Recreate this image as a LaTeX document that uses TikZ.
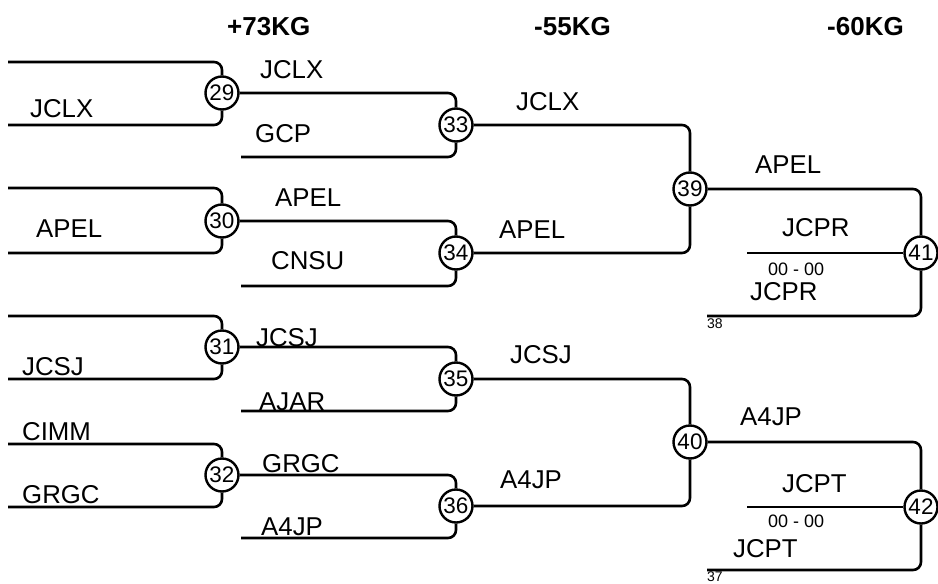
\documentclass[tikz,border=0pt]{standalone}
\usepackage{fontspec}
\setmainfont{Liberation Sans}
\begin{document}
\begin{tikzpicture}[x=1pt,y=-1pt,
  lbl/.style={anchor=base west, inner sep=0pt, font=\fontsize{25.8}{30}\selectfont},
  hdr/.style={anchor=base west, inner sep=0pt, font=\fontsize{26}{30}\selectfont\bfseries},
  num/.style={circle, draw, line width=2.4pt, minimum size=33pt, inner sep=0pt, font=\fontsize{22.5}{24}\selectfont, fill=white},
  score/.style={anchor=base west, inner sep=0pt, font=\fontsize{18}{20}\selectfont},
  seed/.style={anchor=north west, inner sep=0pt, font=\fontsize{14}{15}\selectfont},
  br/.style={line width=2.6pt, rounded corners=8pt},
]
\useasboundingbox (0,0) rectangle (938,584);
% headers
\node[hdr] (h1) at (227,35) {+73KG};
\node[hdr] (h2) at (534,35) {-55KG};
\node[hdr] (h3) at (827,35) {-60KG};
% match circles
\node[num] (n29) at (222,93) {29};
\node[num] (n30) at (222,221) {30};
\node[num] (n31) at (222,347) {31};
\node[num] (n32) at (222,475) {32};
\node[num] (n33) at (456,125) {33};
\node[num] (n34) at (456,253) {34};
\node[num] (n35) at (456,379) {35};
\node[num] (n36) at (456,506) {36};
\node[num] (n39) at (690,189) {39};
\node[num] (n40) at (690,442) {40};
\node[num] (n41) at (921,253) {41};
\node[num] (n42) at (921,507) {42};
% free ends
\coordinate (a1) at (8,62);  \coordinate (b1) at (8,125);
\coordinate (a2) at (8,188); \coordinate (b2) at (8,253);
\coordinate (a3) at (8,316); \coordinate (b3) at (8,379);
\coordinate (a4) at (8,444); \coordinate (b4) at (8,507);
\coordinate (g1) at (241,157); \coordinate (g2) at (241,286);
\coordinate (g3) at (241,411); \coordinate (g4) at (241,538);
\coordinate (m41) at (747,253); \coordinate (l41) at (707,316);
\coordinate (m42) at (747,507); \coordinate (l42) at (707,570);
% connectors
\draw[br] (a1) -| (n29.north); \draw[br] (b1) -| (n29.south);
\draw[br] (a2) -| (n30.north); \draw[br] (b2) -| (n30.south);
\draw[br] (a3) -| (n31.north); \draw[br] (b3) -| (n31.south);
\draw[br] (a4) -| (n32.north); \draw[br] (b4) -| (n32.south);
\draw[br] (n29.east) -| (n33.north); \draw[br] (g1) -| (n33.south);
\draw[br] (n30.east) -| (n34.north); \draw[br] (g2) -| (n34.south);
\draw[br] (n31.east) -| (n35.north); \draw[br] (g3) -| (n35.south);
\draw[br] (n32.east) -| (n36.north); \draw[br] (g4) -| (n36.south);
\draw[br] (n33.east) -| (n39.north); \draw[br] (n34.east) -| (n39.south);
\draw[br] (n35.east) -| (n40.north); \draw[br] (n36.east) -| (n40.south);
\draw[br] (n39.east) -| (n41.north); \draw[br] (l41) -| (n41.south);
\draw[br] (m41) -- (n41.west);
\draw[br] (n40.east) -| (n42.north); \draw[br] (l42) -| (n42.south);
\draw[br] (m42) -- (n42.west);
% round 1 labels
\node[lbl] (t1) at (30,117) {JCLX};
\node[lbl] (t2) at (36,237) {APEL};
\node[lbl] (t3) at (22,375) {JCSJ};
\node[lbl] (t4) at (22,440) {CIMM};
\node[lbl] (t5) at (22,503) {GRGC};
% round 2 labels
\node[lbl] (u1) at (260,78) {JCLX};
\node[lbl] (u2) at (255,142) {GCP};
\node[lbl] (u3) at (275,206) {APEL};
\node[lbl] (u4) at (271,269) {CNSU};
\node[lbl] (u5) at (256,346) {JCSJ};
\node[lbl] (u6) at (259,410) {AJAR};
\node[lbl] (u7) at (262,472) {GRGC};
\node[lbl] (u8) at (261,535) {A4JP};
% round 3 labels
\node[lbl] (v1) at (516,110) {JCLX};
\node[lbl] (v2) at (499,238) {APEL};
\node[lbl] (v3) at (510,363) {JCSJ};
\node[lbl] (v4) at (500,488) {A4JP};
% round 4 labels
\node[lbl] (w1) at (755,173) {APEL};
\node[lbl] (w2) at (782,236) {JCPR};
\node[score] (s1) at (768,275) {00 - 00};
\node[lbl] (w3) at (750,300) {JCPR};
\node[seed] (d1) at (707,319) {38};
\node[lbl] (w4) at (740,425) {A4JP};
\node[lbl] (w5) at (782,492) {JCPT};
\node[score] (s2) at (768,527) {00 - 00};
\node[lbl] (w6) at (733,557) {JCPT};
\node[seed] (d2) at (707,572) {37};
\end{tikzpicture}
\end{document}
